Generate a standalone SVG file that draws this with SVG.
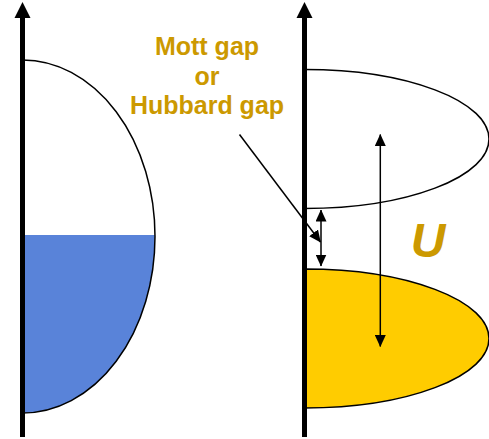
<svg xmlns="http://www.w3.org/2000/svg" width="489" height="439" viewBox="0 0 489 439">
<defs>
<marker id="head" viewBox="0 0 12 11" refX="11.5" refY="5.5" markerWidth="12" markerHeight="11" orient="auto-start-reverse" markerUnits="userSpaceOnUse">
<path d="M0,0 L12,5.5 L0,11 Z" fill="#000"/>
</marker>
</defs>
<style>
.axis{stroke:#000;stroke-width:5;fill:none}
.dos{stroke:#000;stroke-width:1.5}
.lbl{font-family:"Liberation Sans",Arial,sans-serif;font-weight:bold;fill:#CC9900}
.conn{stroke:#000;stroke-width:1.5;fill:none}
</style>
<rect width="489" height="439" fill="#fff"/>
<g id="left-band">
<path d="M22.5,235 L154.9,235 A132.5,176.5 0 0 1 22.5,413 Z" fill="#5983D9"/>
<path class="dos" d="M22.5,60 A132.5,176.5 0 0 1 22.5,413" fill="none"/>
</g>
<g id="upper-hubbard-band">
<path class="dos" d="M304.5,69.5 A184.5,69.5 0 0 1 304.5,208.5" fill="none"/>
</g>
<g id="lower-hubbard-band">
<path class="dos" d="M304.5,269 A184.5,69.5 0 0 1 304.5,408 Z" fill="#FFCC00"/>
</g>
<g id="left-axis">
<line class="axis" x1="22.5" y1="437" x2="22.5" y2="18"/>
<path d="M14.5,18 L22.5,2 L30.5,18 Z" fill="#000"/>
</g>
<g id="right-axis">
<line class="axis" x1="304.5" y1="437" x2="304.5" y2="18"/>
<path d="M296.5,18 L304.5,2 L312.5,18 Z" fill="#000"/>
</g>
<g id="label-mott">
<text class="lbl" font-size="25" text-anchor="middle" x="207" y="55">Mott gap</text>
<text class="lbl" font-size="25" text-anchor="middle" x="207" y="84.5">or</text>
<text class="lbl" font-size="25" text-anchor="middle" x="207" y="114">Hubbard gap</text>
</g>
<g id="label-u">
<text class="lbl" font-size="48" font-style="italic" text-anchor="middle" x="428" y="257">U</text>
</g>
<g id="connectors">
<line class="conn" x1="239.5" y1="134.5" x2="320.5" y2="242" marker-end="url(#head)"/>
<line class="conn" x1="321" y1="210" x2="321" y2="266" marker-start="url(#head)" marker-end="url(#head)"/>
<line class="conn" x1="380.3" y1="134.5" x2="380.3" y2="346.5" marker-start="url(#head)" marker-end="url(#head)"/>
</g>
</svg>
